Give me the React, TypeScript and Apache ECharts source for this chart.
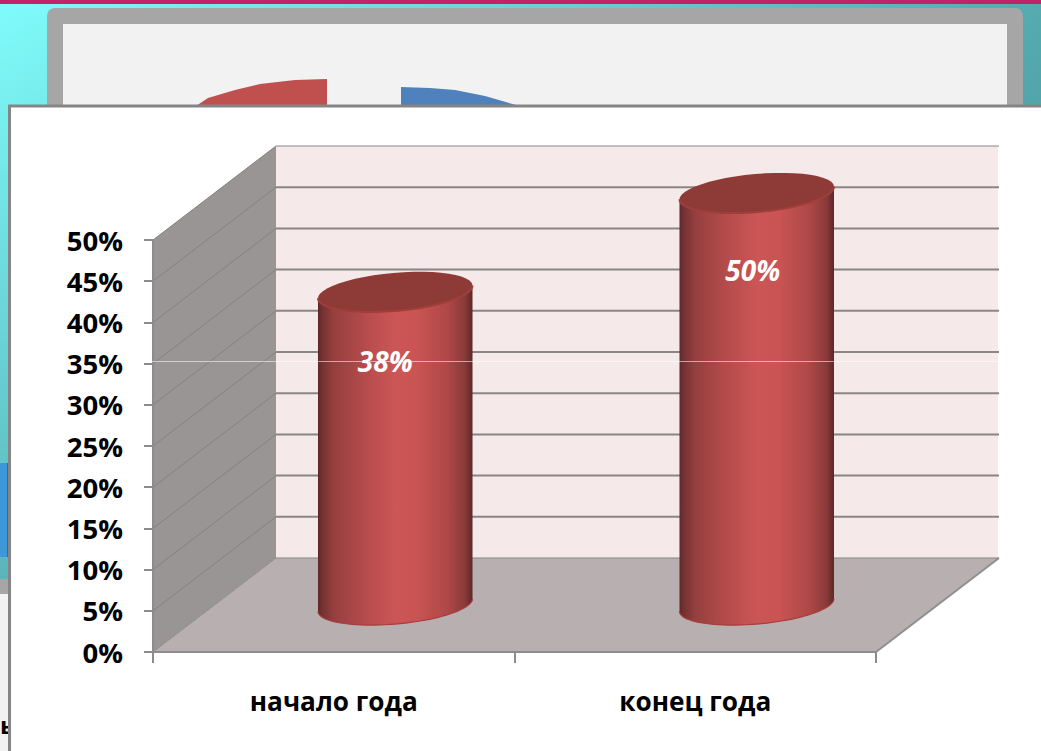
import React, { useEffect, useRef } from "react";
import * as echarts from "echarts";

const categories = ["начало года", "конец года"];
const percentValues = [38, 50];
const yTicks = [0, 5, 10, 15, 20, 25, 30, 35, 40, 45, 50];

const FONT = '"Open Sans", "Noto Sans", sans-serif';
const DEPTH_X = 123;
const DEPTH_Y = -94;
const TILT = (5 * Math.PI) / 180;
const LABEL_SHIFT_X = [-10, -4];

const bodyStops = [
  { offset: 0, color: "#5e2929" },
  { offset: 0.03, color: "#763232" },
  { offset: 0.1, color: "#953f3f" },
  { offset: 0.3, color: "#b54b4b" },
  { offset: 0.5, color: "#cc5656" },
  { offset: 0.64, color: "#c95453" },
  { offset: 0.84, color: "#ae4847" },
  { offset: 0.95, color: "#8a3a39" },
  { offset: 1, color: "#5c2828" },
];

function ellipsePoint(cx: number, cy: number, a: number, b: number, t: number) {
  return [
    cx + a * Math.cos(t) * Math.cos(TILT) + b * Math.sin(t) * Math.sin(TILT),
    cy - a * Math.cos(t) * Math.sin(TILT) + b * Math.sin(t) * Math.cos(TILT),
  ];
}

function arc(cx: number, cy: number, a: number, b: number, from: number, to: number) {
  const pts: number[][] = [];
  for (let i = 0; i <= 48; i++) pts.push(ellipsePoint(cx, cy, a, b, from + ((to - from) * i) / 48));
  return pts;
}

function renderWalls(params: any) {
  const c = params.coordSys;
  const l = c.x, r = c.x + c.width, t = c.y, b = c.y + c.height;
  return {
    type: "group",
    children: [
      {
        type: "polygon",
        shape: { points: [[l + DEPTH_X, t + DEPTH_Y], [r + DEPTH_X - 1, t + DEPTH_Y], [r + DEPTH_X - 1, b + DEPTH_Y], [l + DEPTH_X, b + DEPTH_Y]] },
        style: { fill: "#f5e9e9" },
      },
      {
        type: "polygon",
        shape: { points: [[l, t], [l + DEPTH_X, t + DEPTH_Y], [l + DEPTH_X, b + DEPTH_Y], [l, b]] },
        style: { fill: "#9a9595" },
      },
      {
        type: "polygon",
        shape: { points: [[l, b], [r, b], [r + DEPTH_X, b + DEPTH_Y], [l + DEPTH_X, b + DEPTH_Y]] },
        style: { fill: "#b8b0b0" },
      },
      {
        type: "line",
        shape: { x1: r, y1: b, x2: r + DEPTH_X, y2: b + DEPTH_Y },
        style: { stroke: "#8f8f8f", lineWidth: 2 },
      },
      {
        type: "line",
        shape: { x1: l, y1: b, x2: l + DEPTH_X, y2: b + DEPTH_Y },
        style: { stroke: "#8f8b8b", lineWidth: 1 },
      },
    ],
  };
}

function renderGridLine(params: any, api: any) {
  const c = params.coordSys;
  const y = api.coord([0, api.value(1)])[1];
  const l = c.x, r = c.x + c.width;
  const isEdge = api.value(1) === 0 || api.value(1) === 50;
  const children: any[] = [
    {
      type: "line",
      shape: { x1: l + DEPTH_X, y1: y + DEPTH_Y, x2: r + DEPTH_X, y2: y + DEPTH_Y },
      style: { stroke: "#8a8686", lineWidth: isEdge ? 1.2 : 2 },
    },
  ];
  if (api.value(1) !== 0) {
    children.push({
      type: "line",
      shape: { x1: l, y1: y, x2: l + DEPTH_X, y2: y + DEPTH_Y },
      style: { stroke: "#858181", lineWidth: 1 },
    });
  }
  return { type: "group", children };
}

function renderCylinder(params: any, api: any) {
  const i = api.value(0);
  const v = api.value(1);
  const top = api.coord([i, v]);
  const base = api.coord([i, 0]);
  const band = api.size([1, 0])[0];
  const a = band * 0.2145;
  const b = 19;
  const cx = top[0] + DEPTH_X / 2;
  const topCy = top[1] + DEPTH_Y / 2;
  const baseCy = base[1] + DEPTH_Y / 2;
  const t0 = Math.atan2(b * Math.sin(TILT), a * Math.cos(TILT));
  const lower = arc(cx, baseCy, a, b, t0, t0 + Math.PI);
  const rightTop = ellipsePoint(cx, topCy, a, b, t0);
  const leftTop = ellipsePoint(cx, topCy, a, b, t0 + Math.PI);
  const labelPos = api.coord([i, v * 0.92]);
  return {
    type: "group",
    children: [
      {
        type: "polygon",
        shape: { points: [leftTop, rightTop, ...lower] },
        style: { fill: new echarts.graphic.LinearGradient(0, 0, 1, 0, bodyStops) },
      },
      {
        type: "polyline",
        shape: { points: lower },
        style: { stroke: "#a83d3d", lineWidth: 1.2, fill: "none" },
      },
      {
        type: "polygon",
        shape: { points: arc(cx, topCy, a, b, 0, Math.PI * 2) },
        style: { fill: "#8e3a37" },
      },
      {
        type: "polyline",
        shape: { points: arc(cx, topCy, a, b, t0, t0 + Math.PI) },
        style: { stroke: "#a03e3b", lineWidth: 2, fill: "none" },
      },
      {
        type: "text",
        style: {
          text: v + "%",
          x: cx + LABEL_SHIFT_X[i],
          y: labelPos[1] - 3,
          align: "center",
          verticalAlign: "middle",
          fill: "#ffffff",
          font: `italic bold 28px ${FONT}`,
        },
      },
    ],
  };
}

const under = -10;
const backdrop: any[] = [
  {
    type: "rect", z: under, shape: { x: 0, y: 0, width: 1041, height: 600 },
    style: {
      fill: new echarts.graphic.LinearGradient(0, 0, 1, 0.9, [
        { offset: 0, color: "#80fcfc" },
        { offset: 0.55, color: "#55abb0" },
        { offset: 1, color: "#478f95" },
      ]),
    },
  },
  { type: "rect", z: under, shape: { x: 0, y: 0, width: 1041, height: 4 }, style: { fill: "#bf2468" } },
  { type: "rect", z: under, shape: { x: 47, y: 8, width: 976, height: 120, r: 8 }, style: { fill: "#a6a6a6" } },
  { type: "rect", z: under, shape: { x: 63, y: 24, width: 944, height: 100 }, style: { fill: "#f2f2f2" } },
  {
    type: "polygon", z: under,
    shape: { points: [[190, 110], [208, 98], [235, 90], [260, 84], [295, 80], [327, 79], [327, 110]] },
    style: { fill: "#c0504d" },
  },
  {
    type: "polygon", z: under,
    shape: { points: [[401, 87], [430, 88], [455, 90], [485, 96], [516, 105], [520, 110], [401, 110]] },
    style: { fill: "#4f81bd" },
  },
  {
    type: "rect", z: under, shape: { x: 0, y: 463, width: 8, height: 94 },
    style: { fill: "#3c98d8" },
  },
  { type: "rect", z: under, shape: { x: 7, y: 463, width: 1, height: 94 }, style: { fill: "#2a62e0" } },
  { type: "rect", z: under, shape: { x: 0, y: 579, width: 9, height: 15 }, style: { fill: "#a6a6a6" } },
  { type: "rect", z: under, shape: { x: 0, y: 594, width: 9, height: 157 }, style: { fill: "#f2f2f2" } },
  {
    type: "text", z: under, x: 0, y: 712,
    style: { text: "ь", fill: "#000000", font: `bold 24px ${FONT}` },
  },
  {
    type: "rect", z: under + 1, shape: { x: 9.5, y: 106, width: 1040, height: 660 },
    style: { fill: "#ffffff", stroke: "#858585", lineWidth: 3 },
  },
  {
    type: "line", z: 100, shape: { x1: 150, y1: 361.5, x2: 1000, y2: 361.5 },
    style: { stroke: "rgba(255,255,255,0.55)", lineWidth: 1 },
  },
];

export default function App() {
  const ref = useRef<HTMLDivElement>(null);
  useEffect(() => {
    const chart = echarts.init(ref.current!, null, { renderer: "svg" });
    chart.setOption({
      animation: false,
      graphic: { elements: backdrop },
      grid: { left: 153, right: 165, top: 240, bottom: 99 },
      xAxis: {
        type: "category",
        data: categories,
        z: 3,
        axisLine: { lineStyle: { color: "#8c8c8c", width: 2 } },
        axisTick: { show: true, length: 11, lineStyle: { color: "#8c8c8c", width: 2 } },
        axisLabel: { margin: 36, color: "#000000", fontFamily: FONT, fontWeight: "bold", fontSize: 26.2 },
      },
      yAxis: {
        type: "value",
        min: 0,
        max: 50,
        interval: 5,
        z: 3,
        splitLine: { show: false },
        axisLine: { show: true, lineStyle: { color: "#8c8c8c", width: 2 } },
        axisTick: { show: true, length: 9, lineStyle: { color: "#8c8c8c", width: 2 } },
        axisLabel: { margin: 30, color: "#000000", fontFamily: FONT, fontWeight: "bold", fontSize: 27.5, formatter: "{value}%" },
      },
      series: [
        { type: "custom", renderItem: renderWalls, data: [[0, 0]], encode: { x: 0, y: 1 }, silent: true, z: 1 },
        { type: "custom", renderItem: renderGridLine, data: yTicks.map((t) => [0, t]), encode: { x: 0, y: 1 }, silent: true, z: 1 },
        { type: "custom", renderItem: renderCylinder, data: percentValues.map((v, i) => [i, v]), encode: { x: 0, y: 1 }, z: 2 },
      ],
    });
    return () => chart.dispose();
  }, []);
  return <div ref={ref} style={{ position: "absolute", left: 0, top: 0, width: 1041, height: 751 }} />;
}
